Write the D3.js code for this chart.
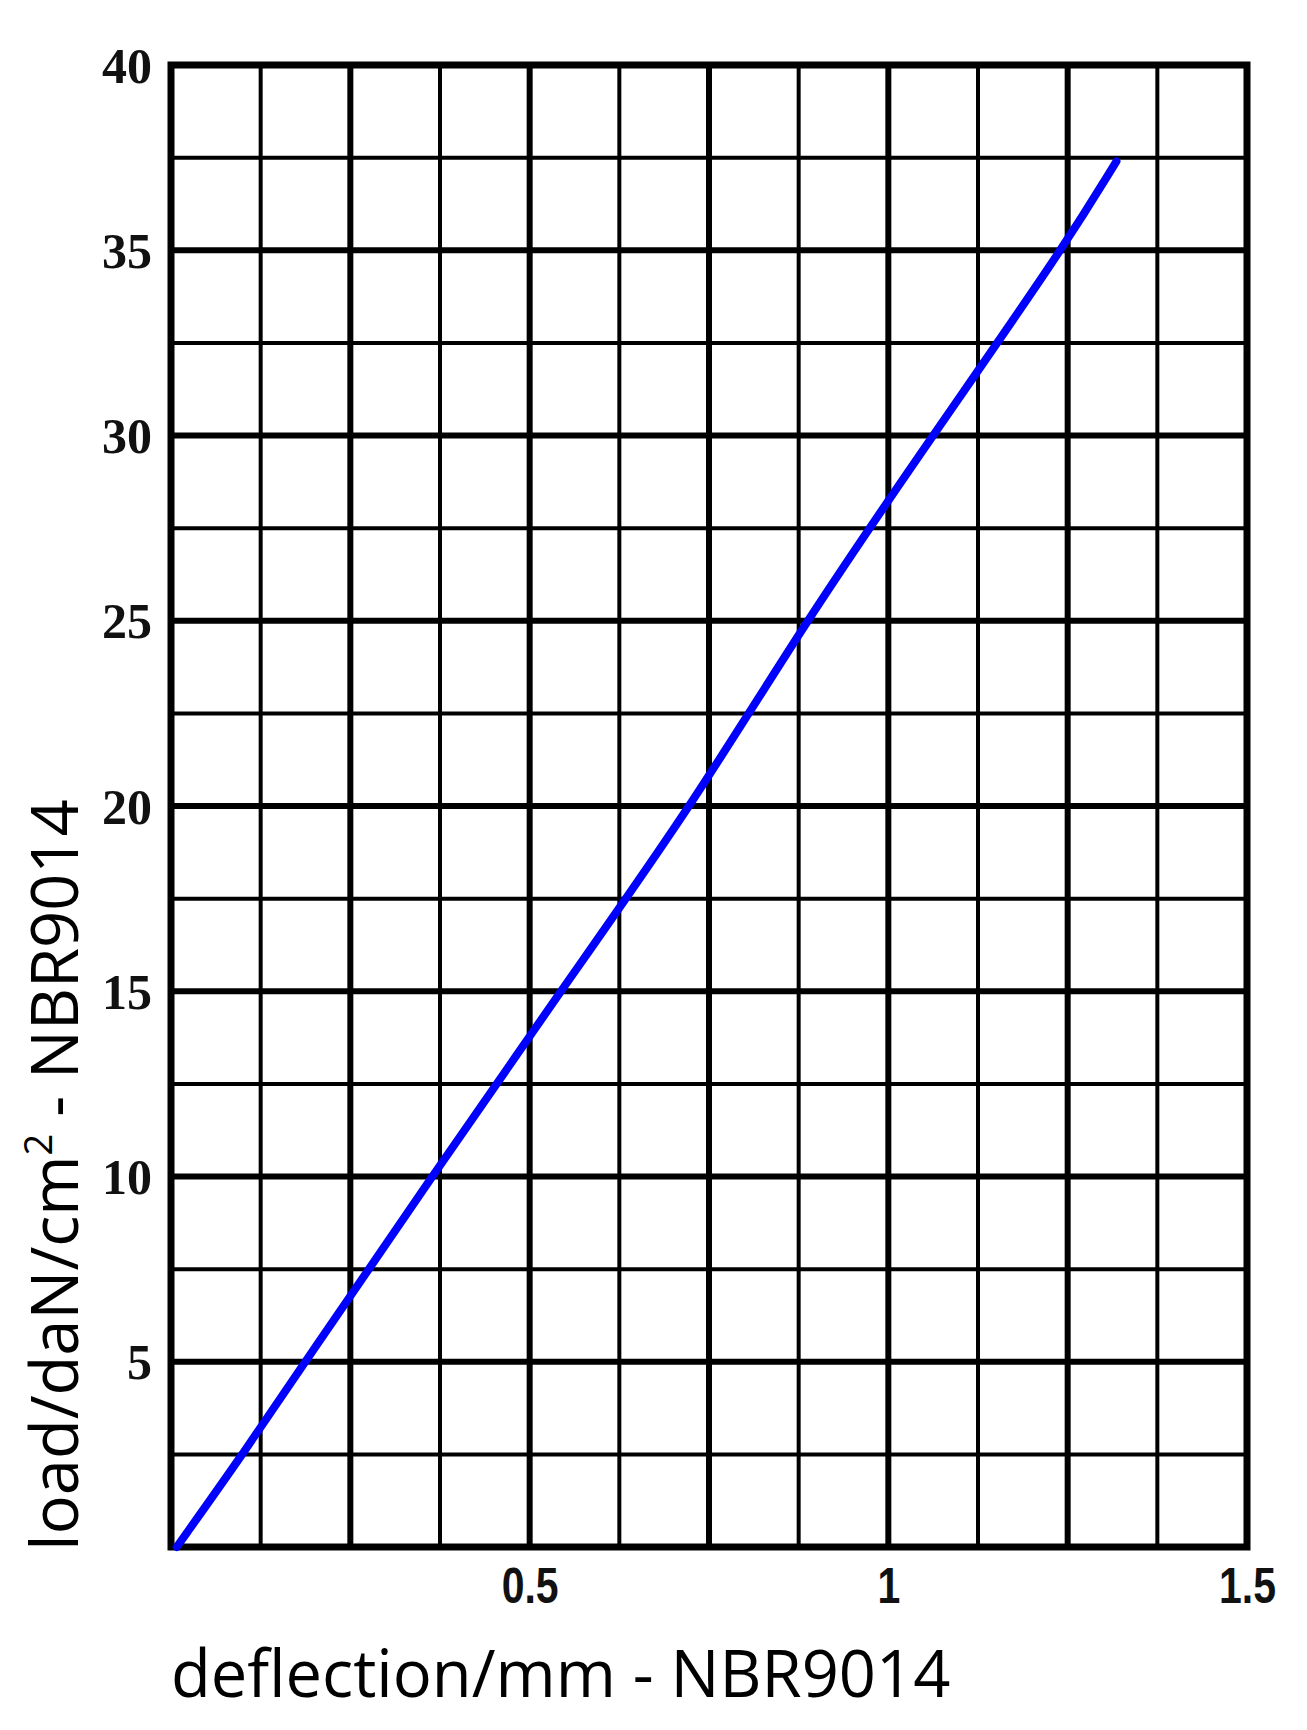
<!DOCTYPE html>
<html>
<head>
<meta charset="utf-8">
<script src="https://cdn.jsdelivr.net/npm/d3@7"></script>
<style>
  body { margin: 0; background: #fff; }
  svg { display: block; }
</style>
</head>
<body>
<svg width="1307" height="1730"></svg>
<script>
// data ===================================================================
var deflection = [0.008, 0.100, 0.187, 0.364, 0.543, 0.726, 0.885, 1.062, 1.242, 1.318];
var load = [0, 2.5, 5, 10, 15, 20, 25, 30, 35, 37.4];

var xTicks = [0.5, 1, 1.5];
var xTickLabels = ["0.5", "1", "1.5"];
var yTicks = [5, 10, 15, 20, 25, 30, 35, 40];
var xTitle = "deflection/mm - NBR9014";

// globals ================================================================
var svg = d3.select("svg");
var plotL = 171, plotR = 1247, plotT = 65, plotB = 1547;

var x = d3.scaleLinear().domain([0, 1.5]).range([plotL, plotR]);
var y = d3.scaleLinear().domain([0, 40]).range([plotB, plotT]);

// grid: thin every 0.125 / 2.5, thick every 0.25 / 5
var g = svg.append("g").attr("class", "grid");
d3.range(1, 12).forEach(function(k) {
  var v = k * 0.125;
  g.append("line")
    .attr("x1", x(v)).attr("x2", x(v))
    .attr("y1", plotT).attr("y2", plotB)
    .attr("stroke", "#000")
    .attr("stroke-width", k % 2 == 0 ? 6 : 4);
});
d3.range(1, 16).forEach(function(k) {
  var v = k * 2.5;
  g.append("line")
    .attr("x1", plotL).attr("x2", plotR)
    .attr("y1", y(v)).attr("y2", y(v))
    .attr("stroke", "#000")
    .attr("stroke-width", k % 2 == 0 ? 6 : 4);
});
g.append("rect")
  .attr("x", plotL).attr("y", plotT)
  .attr("width", plotR - plotL).attr("height", plotB - plotT)
  .attr("fill", "none").attr("stroke", "#000").attr("stroke-width", 7);

// curve (smoothed, the scan is a bit wobbly)
var line = d3.line()
  .x(function(d, i) { return x(deflection[i]); })
  .y(function(d, i) { return y(load[i]); })
  .curve(d3.curveBasis);

svg.append("path")
  .datum(load)
  .attr("d", line)
  .attr("fill", "none")
  .attr("stroke", "#0000ff")
  .attr("stroke-width", 8)
  .attr("stroke-linecap", "round")
  .attr("stroke-linejoin", "round");

// axes (labels only, the grid draws the lines)
var yAxis = svg.append("g")
  .attr("transform", "translate(" + plotL + ",0)")
  .call(d3.axisLeft(y).tickValues(yTicks).tickSize(0).tickPadding(0));
yAxis.select(".domain").remove();
yAxis.selectAll("text")
  .attr("font-family", "Liberation Serif, serif")
  .attr("font-weight", "bold")
  .attr("font-size", 50)
  .attr("fill", "#111")
  .attr("x", -19)
  .attr("dy", "0.34em");

var xAxis = svg.append("g")
  .attr("transform", "translate(0," + plotB + ")")
  .call(d3.axisBottom(x).tickValues(xTicks)
    .tickFormat(function(d, i) { return xTickLabels[i]; })
    .tickSize(0).tickPadding(0));
xAxis.select(".domain").remove();
xAxis.selectAll("text")
  .attr("font-family", "Liberation Sans, Arial, sans-serif")
  .attr("font-weight", "bold")
  .attr("font-size", 50)
  .attr("fill", "#111")
  .attr("y", 56)
  .attr("dy", 0)
  .style("transform-box", "fill-box")
  .style("transform-origin", "center")
  .style("transform", "scaleX(0.82)");

// axis titles
svg.append("text")
  .attr("x", plotL)
  .attr("y", 1697)
  .attr("font-family", "Open Sans, Noto Sans, sans-serif")
  .attr("font-weight", 500)
  .attr("font-size", 65)
  .attr("fill", "#000")
  .text(xTitle);

var yt = svg.append("text")
  .attr("transform", "translate(78,1175) rotate(-90)")
  .attr("text-anchor", "middle")
  .attr("font-family", "Open Sans, Noto Sans, sans-serif")
  .attr("font-weight", 500)
  .attr("font-size", 65)
  .attr("fill", "#000");
yt.append("tspan").text("load/daN/cm");
yt.append("tspan").attr("font-size", 38).attr("dy", -26).text("2");
yt.append("tspan").attr("dy", 26).text(" - NBR9014");
</script>
</body>
</html>
